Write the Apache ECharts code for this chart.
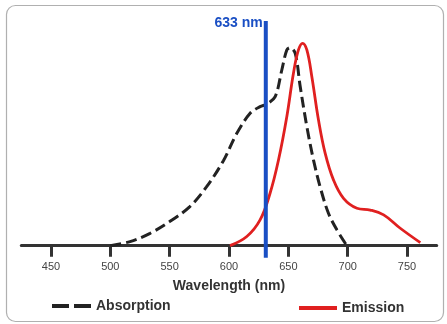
<!DOCTYPE html>
<html>
<head>
<meta charset="utf-8">
<script src="https://cdn.jsdelivr.net/npm/echarts@6/dist/echarts.min.js"></script>
<style>
html,body{margin:0;padding:0;background:#fff;}
#c{width:447px;height:324px;}
</style>
</head>
<body>
<div id="c"></div>
<script>
// Wavelength (nm), relative intensity
const absorptionNm = [500, 516.6, 533.5, 550, 567, 581, 595.3, 606.6, 617.8, 626.2, 631.9, 638.9, 644.5, 648.7, 651.5, 655.8, 660, 665.6, 671.2, 676.8, 683.8, 690.9, 699.3];
const absorptionVal = [0, 0.02, 0.061, 0.119, 0.193, 0.29, 0.42, 0.555, 0.654, 0.687, 0.70, 0.736, 0.868, 0.967, 0.978, 0.95, 0.786, 0.588, 0.423, 0.29, 0.16, 0.078, 0];
const emissionNm = [600.8, 615, 626.2, 634.6, 641.7, 648.7, 654.3, 658.5, 662, 665.6, 669.8, 675.4, 681, 688, 696.5, 707.8, 719, 730.3, 744.3, 761.2];
const emissionVal = [0, 0.045, 0.127, 0.259, 0.423, 0.637, 0.852, 0.967, 1.0, 0.967, 0.835, 0.621, 0.457, 0.325, 0.234, 0.185, 0.176, 0.152, 0.086, 0.015];
const laserNm = 631;
const laserLabel = '633 nm';
const tickValues = [450, 500, 550, 600, 650, 700, 750];

const zip = (a, b) => a.map((x, i) => [x, b[i]]);
const font = 'Liberation Sans, Arial, sans-serif';

const chart = echarts.init(document.getElementById('c'), null, {renderer: 'canvas'});
chart.setOption({
  backgroundColor: '#fff',
  animation: false,
  graphic: [{
    type: 'rect',
    shape: {x: 6.5, y: 5.5, width: 437, height: 316, r: 9},
    style: {fill: 'none', stroke: '#b0b0b0', lineWidth: 1.2},
    z: -10
  }],
  grid: {left: 21.3, right: 10.3, top: 19, bottom: 66.2},
  xAxis: {
    type: 'value',
    min: 425, max: 775,
    name: 'Wavelength (nm)',
    nameLocation: 'middle',
    nameGap: 21,
    nameTextStyle: {fontFamily: font, fontWeight: 'bold', fontSize: 14, color: '#333'},
    splitLine: {show: false},
    axisLine: {onZero: true, lineStyle: {color: '#333', width: 3}},
    axisTick: {show: true, inside: false, length: 11, customValues: tickValues, lineStyle: {color: '#333', width: 3}},
    axisLabel: {customValues: tickValues, fontFamily: font, fontSize: 11, color: '#444', margin: 4, showMinLabel: true, showMaxLabel: true}
  },
  yAxis: {
    type: 'value', min: -0.06, max: 1.12, show: false
  },
  legend: [{
    data: [{name: 'Absorption', icon: 'path://M0,0h17v4h-17z M22,0h17v4h-17z'}],
    left: 52, top: 299, padding: 0,
    itemWidth: 39, itemHeight: 4, itemGap: 6,
    textStyle: {fontFamily: font, fontWeight: 'bold', fontSize: 14, color: '#333'}
  }, {
    data: [{name: 'Emission', icon: 'rect'}],
    left: 299, top: 301, padding: 0,
    itemWidth: 38, itemHeight: 4, itemGap: 5,
    textStyle: {fontFamily: font, fontWeight: 'bold', fontSize: 14, color: '#333'}
  }],
  series: [{
    name: 'Absorption',
    type: 'line',
    data: zip(absorptionNm, absorptionVal),
    smooth: 0.35,
    symbol: 'none',
    lineStyle: {color: '#222', width: 3, type: [11, 5]},
    itemStyle: {color: '#222'},
    z: 3
  }, {
    name: 'Emission',
    type: 'line',
    data: zip(emissionNm, emissionVal),
    smooth: 0.4,
    symbol: 'none',
    lineStyle: {color: '#e02020', width: 2.8},
    itemStyle: {color: '#e02020'},
    z: 4
  }, {
    name: 'Laser',
    type: 'line',
    data: [[laserNm, -0.06], [laserNm, 1.11]],
    symbol: 'none',
    lineStyle: {color: '#1a4fc4', width: 4},
    markPoint: {
      symbol: 'circle', symbolSize: 0,
      data: [{coord: [laserNm, 1.10], value: laserLabel}],
      label: {show: true, position: 'left', distance: 3, formatter: laserLabel, fontFamily: font, fontWeight: 'bold', fontSize: 14, color: '#1a4fc4'}
    },
    z: 5
  }]
});
</script>
</body>
</html>
